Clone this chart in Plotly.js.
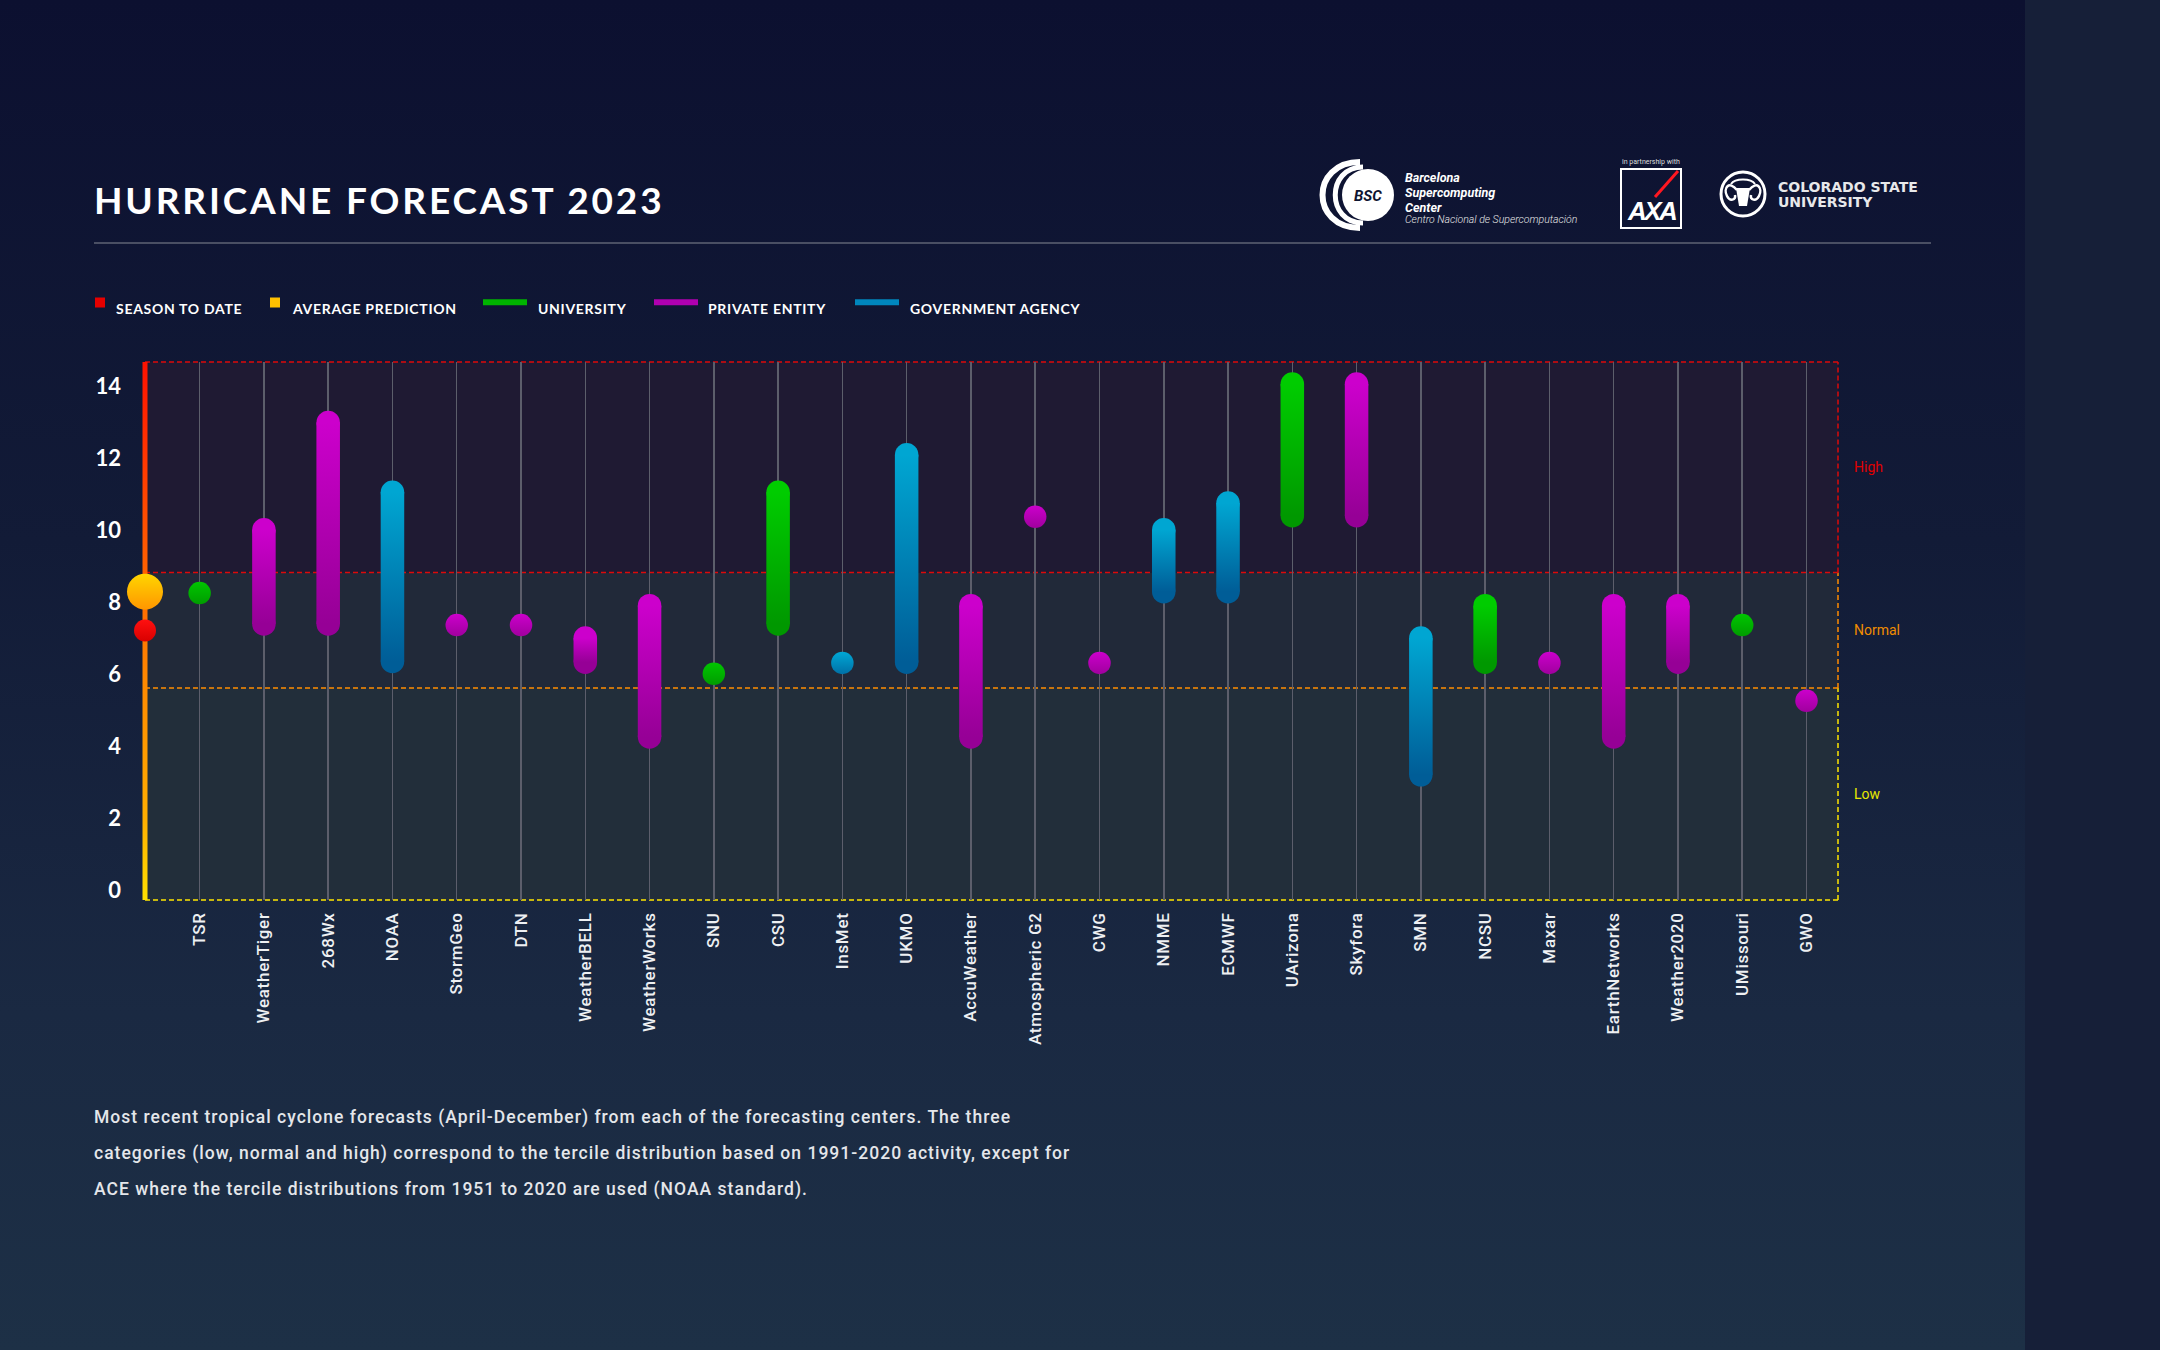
<!DOCTYPE html>
<html>
<head>
<meta charset="utf-8">
<script src="https://cdn.plot.ly/plotly-3.0.1.min.js"></script>
<style>
html,body{margin:0;padding:0;background:#161f38;overflow:hidden;}
#panel{position:absolute;left:0;top:0;width:2025px;height:1350px;background:linear-gradient(180deg,#0c1030 0%,#121b37 40%,#1a2942 75%,#1d3046 100%);}
#chart{position:absolute;left:0;top:0;width:2160px;height:1350px;}
.xtick text{letter-spacing:0.7px;}
</style>
</head>
<body>
<div id="panel"></div>
<div id="chart"></div>
<script>
// ---------------- DATA ----------------
const categories = ["TSR","WeatherTiger","268Wx","NOAA","StormGeo","DTN","WeatherBELL","WeatherWorks","SNU","CSU","InsMet","UKMO","AccuWeather","Atmospheric G2","CWG","NMME","ECMWF","UArizona","Skyfora","SMN","NCSU","Maxar","EarthNetworks","Weather2020","UMissouri","GWO"];
// U = university, P = private entity, G = government agency
const centerTypes = ["U","P","P","G","P","P","P","P","U","U","G","G","P","P","P","G","G","U","P","G","U","P","P","P","U","P"];
const lowValues  = [8.26,7.40,7.40,6.36,7.37,7.37,6.34,4.26,6.02,7.40,6.32,6.34,4.26,10.38,6.32,8.30,8.30,10.41,10.41,3.21,6.34,6.32,4.26,6.34,7.37,5.27];
const highValues = [8.26,10.02,13.00,11.06,7.37,7.37,7.01,7.91,6.02,11.06,6.32,12.10,7.91,10.38,6.32,10.02,10.76,14.07,14.07,7.01,7.91,6.32,7.91,7.91,7.37,5.27];
const seasonToDate = 7.22;
const averagePrediction = 8.30;
const tercileLowNormal = 5.62;
const tercileNormalHigh = 8.83;
const yTickValues = [0,2,4,6,8,10,12,14];
const categoryLabels = ["High","Normal","Low"];
const legendLabels = ["SEASON TO DATE","AVERAGE PREDICTION","UNIVERSITY","PRIVATE ENTITY","GOVERNMENT AGENCY"];
const titleText = "HURRICANE FORECAST 2023";
const footerLines = [
 "Most recent tropical cyclone forecasts (April-December) from each of the forecasting centers. The three",
 "categories (low, normal and high) correspond to the tercile distribution based on 1991-2020 activity, except for",
 "ACE where the tercile distributions from 1951 to 2020 are used (NOAA standard)."
];

// ---------------- STYLE ----------------
const xRange = [-0.85, 25.49];
const yRange = [-0.267, 14.68];
const L = 145, T = 362, PW = 1693, PH = 538;
const fx = px => (px - L) / PW;
const fy = py => 1 - (py - T) / PH;
const barWidth = 0.366, capSize = 23.5, dotSize = 22.5;
const typeStyle = {
  U:{name:"University", top:"#00cc00", bottom:"#009800", dotTop:"#00c600", dotBottom:"#009c00"},
  P:{name:"Private entity", top:"#cc00cc", bottom:"#960096", dotTop:"#cc00cc", dotBottom:"#a0009e"},
  G:{name:"Government agency", top:"#00a6d2", bottom:"#005d97", dotTop:"#00a8d6", dotBottom:"#0070a6"}
};

const traces = [];
const barTraceTypes = [];
["U","P","G"].forEach(t => {
  const st = typeStyle[t];
  const idx = categories.map((c,i)=>i).filter(i => centerTypes[i] === t);
  const bi = idx.filter(i => highValues[i] > lowValues[i]);
  const di = idx.filter(i => highValues[i] === lowValues[i]);
  traces.push({type:"bar", x:bi, base:bi.map(i=>lowValues[i]), y:bi.map(i=>highValues[i]-lowValues[i]),
    width:barWidth, marker:{color:st.top, line:{width:0}}, name:st.name, showlegend:false, hoverinfo:"skip"});
  barTraceTypes.push(t);
  traces.push({type:"scatter", mode:"markers", x:bi, y:bi.map(i=>highValues[i]),
    marker:{size:capSize, color:st.top, line:{width:0}}, showlegend:false, hoverinfo:"skip"});
  traces.push({type:"scatter", mode:"markers", x:bi, y:bi.map(i=>lowValues[i]),
    marker:{size:capSize, color:st.bottom, line:{width:0}}, showlegend:false, hoverinfo:"skip"});
  traces.push({type:"scatter", mode:"markers", x:di, y:di.map(i=>highValues[i]),
    marker:{size:dotSize, color:st.dotTop, gradient:{type:"vertical", color:st.dotBottom}, line:{width:0}},
    showlegend:false, hoverinfo:"skip"});
});
traces.push({type:"scatter", mode:"markers", x:[xRange[0]], y:[averagePrediction], cliponaxis:false,
  marker:{size:36, color:"#ffd600", gradient:{type:"vertical", color:"#ff9600"}, line:{width:0}}, showlegend:false, hoverinfo:"skip"});
traces.push({type:"scatter", mode:"markers", x:[xRange[0]], y:[seasonToDate], cliponaxis:false,
  marker:{size:22, color:"#ff1010", gradient:{type:"vertical", color:"#d80000"}, line:{width:0}}, showlegend:false, hoverinfo:"skip"});

// ---------------- SHAPES ----------------
const zoneColors = ["#ffe600","#ff8c00","#dd0a0a"];
const dashed = "5px,3px";
const shapes = [];
shapes.push({type:"rect", layer:"below", xref:"paper", yref:"y", x0:0, x1:1, y0:yRange[0], y1:tercileLowNormal, fillcolor:"#222e3a", line:{width:0}});
shapes.push({type:"rect", layer:"below", xref:"paper", yref:"y", x0:0, x1:1, y0:tercileLowNormal, y1:tercileNormalHigh, fillcolor:"#212939", line:{width:0}});
shapes.push({type:"rect", layer:"below", xref:"paper", yref:"y", x0:0, x1:1, y0:tercileNormalHigh, y1:yRange[1], fillcolor:"#1f1a33", line:{width:0}});
shapes.push({type:"line", layer:"between", xref:"paper", yref:"paper", x0:0, x1:1, y0:0, y1:0, line:{color:zoneColors[0], width:1.5, dash:dashed}});
shapes.push({type:"line", layer:"between", xref:"paper", yref:"y", x0:1, x1:1, y0:yRange[0], y1:tercileLowNormal, line:{color:zoneColors[0], width:1.5, dash:dashed}});
shapes.push({type:"line", layer:"between", xref:"paper", yref:"y", x0:0, x1:1, y0:tercileLowNormal, y1:tercileLowNormal, line:{color:zoneColors[1], width:1.5, dash:dashed}});
shapes.push({type:"line", layer:"between", xref:"paper", yref:"y", x0:1, x1:1, y0:tercileLowNormal, y1:tercileNormalHigh, line:{color:zoneColors[1], width:1.5, dash:dashed}});
shapes.push({type:"line", layer:"between", xref:"paper", yref:"y", x0:0, x1:1, y0:tercileNormalHigh, y1:tercileNormalHigh, line:{color:zoneColors[2], width:1.5, dash:dashed}});
shapes.push({type:"line", layer:"between", xref:"paper", yref:"y", x0:1, x1:1, y0:tercileNormalHigh, y1:yRange[1], line:{color:zoneColors[2], width:1.5, dash:dashed}});
shapes.push({type:"line", layer:"between", xref:"paper", yref:"paper", x0:0, x1:1, y0:1, y1:1, line:{color:zoneColors[2], width:1.5, dash:dashed}});
const axisShapeIndex = shapes.length;
shapes.push({type:"rect", layer:"between", xref:"paper", yref:"paper", xsizemode:"pixel", xanchor:0, x0:-2.5, x1:2.5, y0:0, y1:1, fillcolor:"#ff8800", line:{width:0}});
shapes.push({type:"line", xref:"paper", yref:"paper", x0:fx(94), x1:fx(1931), y0:fy(243), y1:fy(243), line:{color:"#5f6374", width:1.5}});
const legendSym = [
  {kind:"sq", x:95, color:"#e60000"},
  {kind:"sq", x:270, color:"#ffc000"},
  {kind:"ln", x:483, color:"#00b400"},
  {kind:"ln", x:654, color:"#b000b0"},
  {kind:"ln", x:855, color:"#0086bd"}
];
legendSym.forEach(s => {
  if (s.kind === "sq") {
    shapes.push({type:"rect", xref:"paper", yref:"paper", xsizemode:"pixel", ysizemode:"pixel", xanchor:fx(s.x+5), yanchor:fy(302.5), x0:-5, x1:5, y0:-5, y1:5, fillcolor:s.color, line:{width:0}});
  } else {
    shapes.push({type:"rect", xref:"paper", yref:"paper", xsizemode:"pixel", ysizemode:"pixel", xanchor:fx(s.x), yanchor:fy(302.3), x0:0, x1:44, y0:-3, y1:3, fillcolor:s.color, line:{width:0}});
  }
});
const pix = (cx, cy, extra) => Object.assign({xref:"paper", yref:"paper", xsizemode:"pixel", ysizemode:"pixel", xanchor:fx(cx), yanchor:fy(cy)}, extra);
shapes.push(pix(1360,195,{type:"path", path:"M 0,33 C -50,33 -50,-33 0,-33", line:{color:"#ffffff", width:6}}));
shapes.push(pix(1363,195,{type:"path", path:"M 0,28 C -37,28 -37,-28 0,-28", line:{color:"#ffffff", width:5}}));
shapes.push(pix(1368,195,{type:"circle", x0:-26, x1:26, y0:-26, y1:26, fillcolor:"#ffffff", line:{width:0}}));
shapes.push({type:"rect", xref:"paper", yref:"paper", x0:fx(1621), x1:fx(1681), y0:fy(228), y1:fy(169), line:{color:"#ffffff", width:2}, fillcolor:"rgba(0,0,0,0)"});
shapes.push({type:"line", xref:"paper", yref:"paper", x0:fx(1678), x1:fx(1655), y0:fy(171), y1:fy(197), line:{color:"#ff1721", width:3}});
shapes.push(pix(1743,194,{type:"circle", x0:-22, x1:22, y0:-22, y1:22, line:{color:"#ffffff", width:3}, fillcolor:"rgba(0,0,0,0)"}));
shapes.push(pix(1743,194,{type:"path", path:"M -6,4 C -14,14 -20,6 -16,-2 C -13,-8 -7,-6 -8,-1", line:{color:"#ffffff", width:2.5}}));
shapes.push(pix(1743,194,{type:"path", path:"M 6,4 C 14,14 20,6 16,-2 C 13,-8 7,-6 8,-1", line:{color:"#ffffff", width:2.5}}));
shapes.push(pix(1743,194,{type:"path", path:"M -7,6 L 7,6 L 4,-12 L -4,-12 Z", fillcolor:"#ffffff", line:{width:0}}));
shapes.push(pix(1743,194,{type:"path", path:"M -12,10 C -8,16 8,16 12,10", line:{color:"#ffffff", width:2}}));

// ---------------- ANNOTATIONS ----------------
const ann = [];
const spacing = {};
const A = (x, y, text, font, extra) => Object.assign({xref:"paper", yref:"paper", x:fx(x), y:fy(y), text:text, showarrow:false, xanchor:"left", yanchor:"middle", align:"left", font:font}, extra || {});
spacing[ann.length] = "2.85px";
ann.push(A(91.5, 199, titleText, {family:"Lato", size:37, weight:700, color:"#ffffff"}));
const legendTextX = [114, 289.5, 536, 706, 907.5];
legendLabels.forEach((t,i) => { spacing[ann.length] = "0.7px"; ann.push(A(legendTextX[i], 308, t, {family:"Lato", size:14, weight:700, color:"#ffffff"})); });
footerLines.forEach((t,i) => { spacing[ann.length] = "1.02px"; ann.push(A(91.5, [1117,1153,1189][i], t, {family:"Roboto", size:17.5, weight:500, color:"#e4e6ea"})); });
const zoneMid = [(tercileNormalHigh+yRange[1])/2, (tercileLowNormal+tercileNormalHigh)/2, (yRange[0]+tercileLowNormal)/2];
const zoneLabelColor = ["#e00000","#f08c00","#e8e800"];
categoryLabels.forEach((t,i) => ann.push({xref:"paper", yref:"y", x:1, y:zoneMid[i], xshift:14, text:t, showarrow:false, xanchor:"left", yanchor:"middle", font:{family:"Roboto", size:14, color:zoneLabelColor[i]}}));
ann.push(A(1368, 196, "<b><i>BSC</i></b>", {family:"Roboto", size:15, color:"#0e1430"}, {xanchor:"center", align:"center"}));
ann.push(A(1403, 177, "<b><i>Barcelona</i></b>", {family:"Roboto", size:12.5, color:"#ffffff"}));
ann.push(A(1403, 192, "<b><i>Supercomputing</i></b>", {family:"Roboto", size:12.5, color:"#ffffff"}));
ann.push(A(1403, 207, "<b><i>Center</i></b>", {family:"Roboto", size:12.5, color:"#ffffff"}));
ann.push(A(1403, 220, "<i>Centro Nacional de Supercomputación</i>", {family:"Roboto", size:10.5, weight:300, color:"#e8e8e8"}));
ann.push(A(1651, 162, "in partnership with", {family:"Roboto", size:7, color:"#dddddd"}, {xanchor:"center", align:"center"}));
spacing[ann.length] = "-2.5px";
ann.push(A(1625, 211, "<b><i>AXA</i></b>", {family:"Liberation Sans", size:26, color:"#ffffff"}));
ann.push(A(1775.5, 187, "COLORADO STATE", {family:"DejaVu Sans", size:14, weight:700, color:"#e8e8ea"}));
ann.push(A(1775.5, 202.5, "UNIVERSITY", {family:"DejaVu Sans", size:14, weight:700, color:"#e8e8ea"}));

const layout = {
  width:2160, height:1350,
  margin:{l:L, r:2160-L-PW, t:T, b:1350-T-PH, pad:0},
  paper_bgcolor:"rgba(0,0,0,0)", plot_bgcolor:"rgba(0,0,0,0)",
  barmode:"overlay", hovermode:false, showlegend:false,
  xaxis:{range:xRange, tickmode:"array", tickvals:categories.map((c,i)=>i), ticktext:categories, tickangle:-90,
    showgrid:true, gridcolor:"#5c5e6b", gridwidth:1.5, zeroline:false, showline:false, ticks:"",
    ticklabelstandoff:8, tickfont:{family:"Roboto", size:17, weight:500, color:"#eef0f3"}, fixedrange:true},
  yaxis:{range:yRange, tickmode:"array", tickvals:yTickValues, showgrid:false, zeroline:false, showline:false, ticks:"",
    ticklabelstandoff:23, tickfont:{family:"Lato", size:22, weight:700, color:"#ffffff"}, fixedrange:true},
  shapes:shapes, annotations:ann
};

Plotly.newPlot("chart", traces, layout, {displayModeBar:false, staticPlot:true}).then(gd => {
  const svg = gd.querySelector(".main-svg");
  const defs = svg.querySelector("defs");
  const NS = "http://www.w3.org/2000/svg";
  const mkGrad = (id, stops) => {
    const g = document.createElementNS(NS, "linearGradient");
    g.setAttribute("id", id); g.setAttribute("x1","0"); g.setAttribute("y1","0"); g.setAttribute("x2","0"); g.setAttribute("y2","1");
    stops.forEach(s => { const st = document.createElementNS(NS,"stop"); st.setAttribute("offset", s[0]); st.setAttribute("stop-color", s[1]); g.appendChild(st); });
    defs.appendChild(g);
  };
  ["U","P","G"].forEach(t => mkGrad("grad"+t, [[0, typeStyle[t].top],[1, typeStyle[t].bottom]]));
  mkGrad("gradAxis", [[0,"#ff1200"],[0.35,"#ff5a00"],[0.6,"#ff8a00"],[0.85,"#ffae00"],[1,"#ffe000"]]);
  const barLayer = gd.querySelector(".barlayer");
  barLayer.querySelectorAll(".trace").forEach((g,k) => {
    g.querySelectorAll("path").forEach(p => { p.style.fill = "url(#grad" + barTraceTypes[k] + ")"; });
  });
  // draw bar bodies above their round end caps so the gradient stays continuous
  barLayer.parentNode.appendChild(barLayer);
  gd.querySelectorAll('.shapelayer path[data-index="' + axisShapeIndex + '"]').forEach(p => { p.style.fill = "url(#gradAxis)"; });
  Object.keys(spacing).forEach(i => {
    const t = gd.querySelector('.annotation[data-index="' + i + '"] text');
    if (t) t.style.letterSpacing = spacing[i];
  });
});
</script>
</body>
</html>
